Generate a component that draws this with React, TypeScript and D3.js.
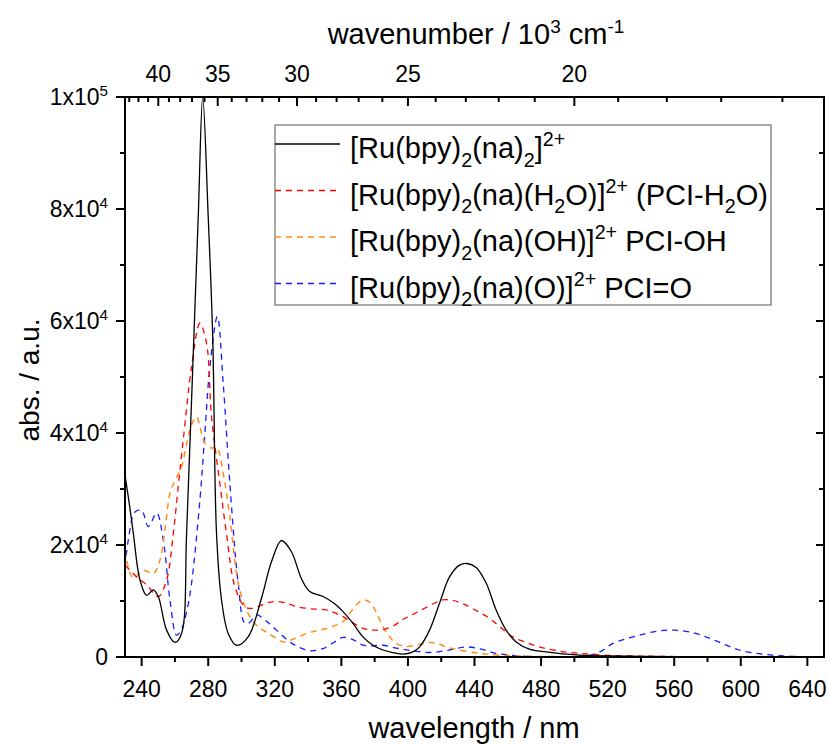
import React from "react";
import * as d3 from "d3";

// ---- data (wavelength nm, absorbance) ----
const blackNm = [230, 233, 235, 239, 243, 247, 250, 255, 260, 264, 267, 270, 274, 276.7, 280, 282.7, 285, 288, 292, 297, 304, 312, 318, 324, 330, 336, 341, 349, 356, 361, 367, 373, 379, 385, 391, 397, 403, 407, 413, 419, 425, 431, 435.4, 441, 447, 453, 459, 465, 473, 483, 493, 503, 520, 540, 560, 600, 649];
const blackVal = [32500, 26500, 22100, 13750, 11000, 12000, 10800, 4800, 2600, 4200, 22000, 45900, 78600, 100000, 78600, 57200, 22000, 10200, 4200, 2100, 3600, 10500, 17000, 20800, 18800, 14000, 11700, 10800, 9500, 8100, 6000, 3600, 2100, 1250, 800, 500, 900, 1800, 4800, 9600, 14300, 16400, 16700, 16000, 13200, 8400, 4800, 2700, 1400, 900, 550, 350, 200, 120, 80, 40, 0];

const redNm = [230, 234, 237, 243, 250, 255, 259, 262, 265, 270, 275, 279, 282, 287, 291, 296, 302, 307, 313, 319, 326, 333, 342, 351, 361, 367, 373, 379, 385, 391, 397, 403, 410, 416, 421, 427, 433, 441, 449, 456, 463, 471, 479, 490, 503, 520, 540, 580, 649];
const redVal = [16400, 15200, 14300, 12900, 10800, 13750, 22000, 30500, 38800, 51800, 59600, 56000, 42900, 31000, 22000, 12600, 9000, 8700, 9400, 9900, 9700, 9000, 8600, 8400, 7200, 6100, 5100, 4800, 4900, 5500, 6700, 7600, 8700, 9600, 10200, 10100, 9500, 8300, 6900, 5200, 3600, 2600, 1800, 1100, 650, 300, 150, 50, 0];

const orangeNm = [230, 235, 241, 247, 251, 254, 257, 260, 264, 267, 270, 273, 275, 278, 282, 285, 289, 293, 298, 303, 308, 313, 319, 325, 332, 339, 345, 351, 356, 361, 365, 369, 373, 377, 381, 385, 389, 393, 399, 406, 413, 418, 423, 430, 443, 453, 463, 480, 500, 540, 649];
const orangeVal = [19100, 14000, 15500, 14900, 17300, 22700, 29200, 31500, 34000, 38000, 41500, 42900, 41100, 38200, 37300, 37500, 32800, 25000, 13200, 8400, 6000, 4800, 3700, 2700, 3300, 4200, 4700, 5100, 5600, 6300, 7800, 9300, 10200, 9800, 8000, 5400, 3600, 2400, 1900, 2200, 2600, 2400, 1800, 1300, 650, 350, 200, 100, 50, 20, 0];

const blueNm = [230, 232, 236, 240, 244, 249, 253, 257, 261, 264, 267, 270, 275, 278, 281, 285.5, 289, 293, 298, 302, 305, 309, 315, 321, 329, 335, 341, 349, 355, 361, 367, 373, 379, 385, 393, 403, 413, 424, 435, 444, 453, 463, 473, 490, 503, 509, 516, 523, 533, 543, 552, 560, 569, 579, 589, 599, 609, 619, 630, 649];
const blueVal = [16100, 20900, 25900, 26200, 23300, 25700, 20900, 10200, 3900, 5000, 8000, 13200, 28000, 40000, 51800, 60800, 48900, 31000, 13200, 6000, 6200, 7500, 6400, 4800, 2700, 1700, 1100, 1500, 2500, 3500, 3100, 2100, 2000, 2100, 1600, 1100, 800, 1200, 1800, 1400, 650, 300, 100, 80, 100, 300, 1000, 2400, 3400, 4200, 4700, 4800, 4500, 3600, 2400, 1250, 650, 350, 120, 0];

const bottomTicks = [240, 280, 320, 360, 400, 440, 480, 520, 560, 600, 640];
const bottomMinor = [260, 300, 340, 380, 420, 460, 500, 540, 580, 620];
const yMajor = [0, 20000, 40000, 60000, 80000, 100000];
const yMajorLabels = ["0", "2x10^4", "4x10^4", "6x10^4", "8x10^4", "1x10^5"];
const yMinor = [10000, 30000, 50000, 70000, 90000];
const topMajor = [40, 35, 30, 25, 20];
const topMinor = [43, 42, 41, 39, 38, 37, 36, 34, 33, 32, 31, 29, 28, 27, 26, 24, 23, 22, 21, 19, 18, 17, 16];

type Part = [string, "n" | "sub" | "sup"];
const legendItems: { parts: Part[]; color: string; dash: string | null; width: number }[] = [
  { parts: [["[Ru(bpy)", "n"], ["2", "sub"], ["(na)", "n"], ["2", "sub"], ["]", "n"], ["2+", "sup"]], color: "#000000", dash: null, width: 1.3 },
  { parts: [["[Ru(bpy)", "n"], ["2", "sub"], ["(na)(H", "n"], ["2", "sub"], ["O)]", "n"], ["2+", "sup"], [" (PCI-H", "n"], ["2", "sub"], ["O)", "n"]], color: "#ff0000", dash: "6,5", width: 1.3 },
  { parts: [["[Ru(bpy)", "n"], ["2", "sub"], ["(na)(OH)]", "n"], ["2+", "sup"], [" PCI-OH", "n"]], color: "#ff8c1a", dash: "6,5", width: 1.5 },
  { parts: [["[Ru(bpy)", "n"], ["2", "sub"], ["(na)(O)]", "n"], ["2+", "sup"], [" PCI=O", "n"]], color: "#1a1aff", dash: "6,5", width: 1.3 },
];

const FONT = "'Liberation Sans', Arial, sans-serif";

function RichText({ parts, x, y, size }: { parts: Part[]; x: number; y: number; size: number }) {
  const small = size * 0.68;
  let cur = 0;
  const spans: React.ReactNode[] = [];
  parts.forEach(([t, k], i) => {
    const target = k === "sub" ? size * 0.3 : k === "sup" ? -size * 0.4 : 0;
    const dy = target - cur;
    cur = target;
    spans.push(
      <tspan key={i} dy={dy} fontSize={k === "n" ? size : small}>
        {t}
      </tspan>
    );
  });
  return (
    <text x={x} y={y} fontFamily={FONT} fontSize={size} fill="#000" style={{ whiteSpace: "pre" }}>
      {spans}
    </text>
  );
}

function SupLabel({ s, x, y, size, anchor }: { s: string; x: number; y: number; size: number; anchor: string }) {
  const [base, exp] = s.split("^");
  return (
    <text x={x} y={y} fontFamily={FONT} fontSize={size} textAnchor={anchor} fill="#000">
      <tspan>{base}</tspan>
      {exp !== undefined && (
        <tspan dy={-size * 0.4} fontSize={size * 0.66}>
          {exp}
        </tspan>
      )}
    </text>
  );
}

export default function App() {
  const W = 829, H = 745;
  const L = 125, R = 824, T = 97, B = 657;
  const x = d3.scaleLinear().domain([230, 650]).range([L, R]);
  const y = d3.scaleLinear().domain([0, 100000]).range([B, T]);
  const wnX = (k: number) => x(1e7 / (k * 1000));

  const series = [
    { nm: blackNm, v: blackVal, ...legendItems[0] },
    { nm: redNm, v: redVal, ...legendItems[1] },
    { nm: orangeNm, v: orangeVal, ...legendItems[2] },
    { nm: blueNm, v: blueVal, ...legendItems[3] },
  ];
  const line = d3
    .line<[number, number]>()
    .x((d) => x(d[0]))
    .y((d) => y(d[1]))
    .curve(d3.curveCatmullRom.alpha(0.5));

  const drawOrder = [3, 2, 1, 0];
  const TICK = 23;

  return (
    <svg width={W} height={H} style={{ position: "absolute", left: 0, top: 0, background: "#fff" }}>
      <defs>
        <clipPath id="plotclip">
          <rect x={L} y={T - 1} width={R - L} height={B - T + 1} />
        </clipPath>
      </defs>
      <rect x={0} y={0} width={W} height={H} fill="#fff" />
      <g clipPath="url(#plotclip)">
        {drawOrder.map((i) => {
          const s = series[i];
          const pts = s.nm.map((n, j) => [n, s.v[j]] as [number, number]);
          return (
            <path
              key={i}
              d={line(pts) || ""}
              fill="none"
              stroke={s.color}
              strokeWidth={s.width}
              strokeDasharray={s.dash || undefined}
            />
          );
        })}
      </g>
      {/* frame */}
      <rect x={L} y={T} width={R - L} height={B - T} fill="none" stroke="#000" strokeWidth={2} />
      {/* bottom ticks */}
      {bottomTicks.map((t) => (
        <g key={"b" + t}>
          <line x1={x(t)} x2={x(t)} y1={B} y2={B + 9} stroke="#000" strokeWidth={2} />
          <text x={x(t)} y={B + 40} fontFamily={FONT} fontSize={TICK} textAnchor="middle">
            {t}
          </text>
        </g>
      ))}
      {bottomMinor.map((t) => (
        <line key={"bm" + t} x1={x(t)} x2={x(t)} y1={B} y2={B + 5} stroke="#000" strokeWidth={2} />
      ))}
      {/* left & right ticks */}
      {yMajor.map((t, i) => (
        <g key={"y" + t}>
          <line x1={L - 9} x2={L} y1={y(t)} y2={y(t)} stroke="#000" strokeWidth={2} />
          <line x1={R - 8} x2={R} y1={y(t)} y2={y(t)} stroke="#000" strokeWidth={2} />
          <SupLabel s={yMajorLabels[i]} x={L - 17} y={y(t) + 8} size={TICK} anchor="end" />
        </g>
      ))}
      {yMinor.map((t) => (
        <g key={"ym" + t}>
          <line x1={L - 5} x2={L} y1={y(t)} y2={y(t)} stroke="#000" strokeWidth={2} />
          <line x1={R - 5} x2={R} y1={y(t)} y2={y(t)} stroke="#000" strokeWidth={2} />
        </g>
      ))}
      {/* top ticks (wavenumber) */}
      {topMajor.map((k) => (
        <g key={"t" + k}>
          <line x1={wnX(k)} x2={wnX(k)} y1={T} y2={T + 9} stroke="#000" strokeWidth={2} />
          <text x={wnX(k)} y={T - 15} fontFamily={FONT} fontSize={TICK} textAnchor="middle">
            {k}
          </text>
        </g>
      ))}
      {topMinor.map((k) => (
        <line key={"tm" + k} x1={wnX(k)} x2={wnX(k)} y1={T} y2={T + 5} stroke="#000" strokeWidth={2} />
      ))}
      {/* axis titles */}
      <text x={474} y={738} fontFamily={FONT} fontSize={29} textAnchor="middle">
        wavelength / nm
      </text>
      <text x={476} y={44} fontFamily={FONT} fontSize={29} textAnchor="middle">
        <tspan>wavenumber / 10</tspan>
        <tspan dy={-11} fontSize={19}>3</tspan>
        <tspan dy={11}> cm</tspan>
        <tspan dy={-11} fontSize={19}>-1</tspan>
      </text>
      <text
        transform={`translate(39,${(T + B) / 2 + 3}) rotate(-90)`}
        fontFamily={FONT}
        fontSize={28}
        textAnchor="middle"
      >
        abs. / a.u.
      </text>
      {/* legend */}
      <rect x={275} y={125} width={496} height={180} fill="#fff" stroke="#555" strokeWidth={1} />
      {legendItems.map((it, i) => {
        const ly = 144 + i * 46.5;
        return (
          <g key={"lg" + i}>
            <line
              x1={275}
              x2={340}
              y1={ly}
              y2={ly}
              stroke={it.color}
              strokeWidth={it.width}
              strokeDasharray={it.dash || undefined}
            />
            <RichText parts={it.parts} x={350} y={ly + 14} size={29} />
          </g>
        );
      })}
    </svg>
  );
}
